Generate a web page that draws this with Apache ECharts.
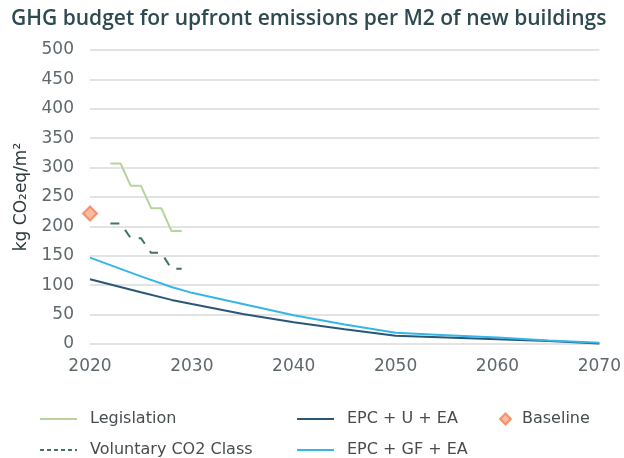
<!DOCTYPE html>
<html>
<head>
<meta charset="utf-8">
<script src="https://cdn.jsdelivr.net/npm/echarts@6/dist/echarts.min.js"></script>
<style>
  html, body { margin: 0; padding: 0; background: #fff; }
  #chart { width: 624px; height: 458px; }
</style>
</head>
<body>
<div id="chart"></div>
<script>
// data
var legislationYears = [2022, 2023, 2024, 2025, 2026, 2027, 2028, 2029];
var legislationVals  = [307, 307, 269, 269, 231, 231, 192, 192];

var voluntaryYears = [2022, 2023, 2024, 2025, 2026, 2027, 2028, 2029];
var voluntaryVals  = [205, 205, 180, 180, 155, 155, 128, 128];

var pathYears = [2020, 2025, 2028, 2030, 2035, 2040, 2045, 2050, 2055, 2060, 2065, 2070];
var epcUVals  = [110, 88, 75, 68, 51, 37, 25, 14, 11, 8, 5, 1];   // EPC + U + EA
var epcGFVals = [147, 115, 97, 87, 68, 49, 33, 19, 15, 11, 6, 2]; // EPC + GF + EA

var baselineYear = 2020;
var baselineVal = 222;

function pairs(xs, ys) {
    var out = [];
    for (var i = 0; i < xs.length; i++) {
        out.push([xs[i], ys[i]]);
    }
    return out;
}

var font = 'DejaVu Sans';
var legendText = {color: '#474c4f', fontSize: 16, fontFamily: font, padding: [0, 0, 0, 8]};

// line legends: hide the symbol, keep the line
function lineLegend(name, left, top, lineType) {
    return {
        data: [name], left: left, top: top,
        itemWidth: 37, itemHeight: 14,
        itemStyle: {opacity: 0},
        lineStyle: {type: lineType || 'solid'},
        textStyle: legendText
    };
}

var option = {
    animation: false,
    title: {
        text: 'GHG budget for upfront emissions per M2 of new buildings',
        left: 6,
        top: 4,
        textStyle: {color: '#2e4a50', fontSize: 21, fontWeight: 600, fontFamily: 'Open Sans'}
    },
    grid: {left: 90, right: 24, top: 50, bottom: 114},
    legend: [
        lineLegend('Legislation', 34, 406),
        lineLegend('Voluntary CO2 Class', 34, 437, [4, 3]),
        lineLegend('EPC + U + EA', 291, 406),
        lineLegend('EPC + GF + EA', 291, 437),
        {data: [{name: 'Baseline', icon: 'diamond'}], left: 494, top: 406, itemWidth: 11, itemHeight: 11,
            textStyle: {color: '#474c4f', fontSize: 16, fontFamily: font, padding: [0, 0, 0, 6]}}
    ],
    xAxis: {
        type: 'value',
        min: 2020,
        max: 2070,
        interval: 10,
        axisLine: {show: false},
        axisTick: {show: false},
        splitLine: {show: false},
        axisLabel: {
            color: '#5f686c', fontSize: 17, fontFamily: font, margin: 14,
            formatter: function (v) { return String(v); }
        }
    },
    yAxis: {
        type: 'value',
        min: 0,
        max: 500,
        interval: 50,
        name: 'kg CO\u2082eq/m\u00b2',
        nameLocation: 'middle',
        nameRotate: 90,
        nameGap: 60,
        nameTextStyle: {color: '#2e3a3c', fontSize: 17, fontFamily: font},
        axisLine: {show: false},
        axisTick: {show: false},
        splitLine: {lineStyle: {color: '#e3e3e3', width: 2}},
        axisLabel: {color: '#5f686c', fontSize: 17, fontFamily: font, margin: 16}
    },
    series: [
        {
            name: 'Legislation',
            type: 'line',
            symbol: 'none',
            data: pairs(legislationYears, legislationVals),
            lineStyle: {color: '#b7d39c', width: 2},
            itemStyle: {color: '#b7d39c'}
        },
        {
            name: 'Voluntary CO2 Class',
            type: 'line',
            symbol: 'none',
            data: pairs(voluntaryYears, voluntaryVals),
            lineStyle: {color: '#3f7562', width: 2, type: [9, 9]},
            itemStyle: {color: '#3f7562'}
        },
        {
            name: 'EPC + U + EA',
            type: 'line',
            symbol: 'none',
            data: pairs(pathYears, epcUVals),
            lineStyle: {color: '#2a5677', width: 2},
            itemStyle: {color: '#2a5677'}
        },
        {
            name: 'EPC + GF + EA',
            type: 'line',
            symbol: 'none',
            data: pairs(pathYears, epcGFVals),
            lineStyle: {color: '#35b6e6', width: 2},
            itemStyle: {color: '#35b6e6'}
        },
        {
            name: 'Baseline',
            type: 'scatter',
            symbol: 'diamond',
            symbolSize: 14,
            data: [[baselineYear, baselineVal]],
            itemStyle: {color: '#f9a987', borderColor: '#f07f52', borderWidth: 2}
        }
    ]
};

var myChart = echarts.init(document.getElementById('chart'));
myChart.setOption(option);
</script>
</body>
</html>
